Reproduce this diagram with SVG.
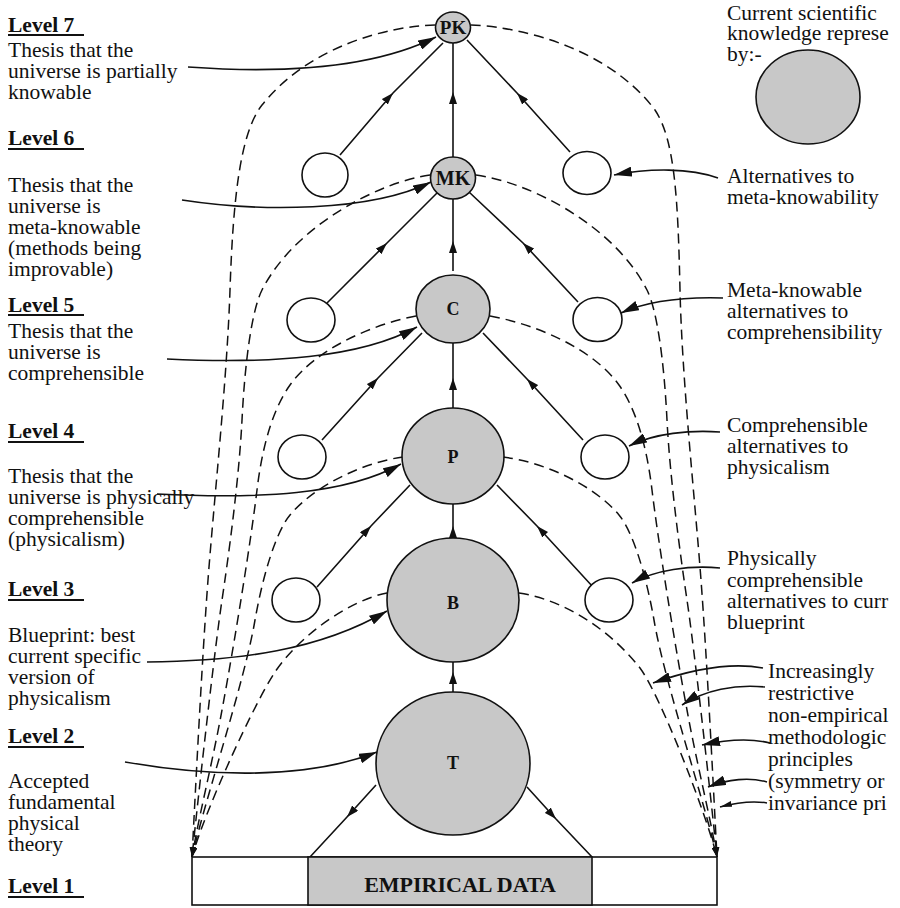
<svg xmlns="http://www.w3.org/2000/svg" width="900" height="908" viewBox="0 0 900 908">
<style>
.t{font-family:"Liberation Serif","Times New Roman",serif;font-size:21.5px;fill:#111}
.h{font-weight:bold}
.lbl{font-family:"Liberation Serif","Times New Roman",serif;font-weight:bold;font-size:18px;text-anchor:middle;fill:#111}
.g{fill:#c8c8c8;stroke:#111;stroke-width:1.6}
.w{fill:#fff;stroke:#111;stroke-width:1.6}
.ln{fill:none;stroke:#111;stroke-width:1.6;marker-mid:url(#am)}
.ds{fill:none;stroke:#111;stroke-width:1.5;stroke-dasharray:10 6;marker-end:url(#ad)}
.an{fill:none;stroke:#111;stroke-width:1.6;marker-end:url(#aa)}
.ul{stroke:#111;stroke-width:2}
</style>
<defs>
<marker id="am" markerUnits="userSpaceOnUse" markerWidth="12" markerHeight="8" refX="12" refY="4" orient="auto" viewBox="0 0 12 8"><path d="M0,0 L12,4 L0,8 Z" fill="#111"/></marker>
<marker id="aa" markerUnits="userSpaceOnUse" markerWidth="18" markerHeight="10" refX="18" refY="5" orient="auto" viewBox="0 0 18 10"><path d="M0,0 L18,5 L0,10 Z" fill="#111"/></marker>
<marker id="as" markerUnits="userSpaceOnUse" markerWidth="12" markerHeight="6" refX="12" refY="3" orient="auto" viewBox="0 0 12 6"><path d="M0,0 L12,3 L0,6 Z" fill="#111"/></marker>
<marker id="ad" markerUnits="userSpaceOnUse" markerWidth="10" markerHeight="6" refX="10" refY="3" orient="auto" viewBox="0 0 10 6"><path d="M0,0 L10,3 L0,6 Z" fill="#111"/></marker>
</defs>
<rect width="900" height="908" fill="#fff"/>

<g id="connectors">
<path class="ln" d="M340,155 L393,93 L443,43"/>
<path class="ln" d="M570,152 L517,93 L467,40"/>
<path class="ln" d="M453,157 L453,92 L453,43"/>
<path class="ln" d="M327,303 L387,243 L437,193"/>
<path class="ln" d="M578,302 L523,243 L469,192"/>
<path class="ln" d="M453,271 L453,241 L453,199"/>
<path class="ln" d="M322,440 L378,378 L422,333"/>
<path class="ln" d="M583,440 L527,379 L483,333"/>
<path class="ln" d="M453,408 L453,378 L453,343"/>
<path class="ln" d="M317,587 L371,526 L410,485"/>
<path class="ln" d="M593,587 L537,526 L497,485"/>
<path class="ln" d="M453,538 L453,526 L453,504"/>
<path class="ln" d="M453,692 L453,672 L453,661"/>
<path class="ln" d="M376,785 L347,817 L310,857"/>
<path class="ln" d="M527,787 L556,819 L592,857"/>
<path class="ds" d="M435,25 C390,26 310,45 262,105 C240,133 233,200 230,290 C227,380 214,500 208,580 C202,660 196,780 192,857"/>
<path class="ds" d="M430,175 C380,182 295,225 262,290 C252,310 245,360 242,420 C239,480 228,560 222,600 C215,647 200,780 192,857"/>
<path class="ds" d="M416,316 C370,325 315,350 290,385 C275,406 263,440 257,490 C251,540 235,640 222,710 C213,760 198,820 192,857"/>
<path class="ds" d="M403,457 C365,462 315,485 290,515 C275,533 262,580 255,620 C245,680 205,800 192,857"/>
<path class="ds" d="M387,593 C350,600 300,635 275,672 C255,702 205,810 192,857"/>
<path class="ds" d="M471,25 C525,27 610,50 655,110 C675,140 678,200 680,290 C682,380 695,500 701,580 C707,660 713,780 717,857"/>
<path class="ds" d="M476,175 C529,182 614,225 647,290 C657,310 664,360 667,420 C670,480 681,560 687,600 C694,647 709,780 717,857"/>
<path class="ds" d="M490,316 C539,325 594,350 619,385 C634,406 646,440 652,490 C658,540 674,640 687,710 C696,760 711,820 717,857"/>
<path class="ds" d="M503,457 C544,462 594,485 619,515 C634,533 647,580 654,620 C664,680 704,800 717,857"/>
<path class="ds" d="M519,593 C565,600 610,630 640,668 C660,695 705,810 717,857"/>
<path class="an" d="M188,67 C300,75 380,65 436,37"/>
<path class="an" d="M182,200 C260,212 370,212 431,182"/>
<path class="an" d="M167,359 C270,364 360,358 417,327"/>
<path class="an" d="M157,494 C260,499 345,495 401,464"/>
<path class="an" d="M147,662 C240,661 320,650 387,611"/>
<path class="an" d="M125,762 C200,775 300,782 377,752"/>
<path class="an" d="M718,178 C690,168 650,168 614,175"/>
<path class="an" d="M723,298 C690,297 650,300 621,313"/>
<path class="an" d="M720,432 C690,430 655,433 629,446"/>
<path class="an" d="M720,568 C690,565 655,570 632,583"/>
<path class="an" d="M763,668 C730,662 690,670 653,683"/>
<path class="an" d="M765,687 C735,684 705,690 682,705"/>
<path class="an" d="M770,743 C750,738 725,740 702,745"/>
<path class="an" d="M767,782 C750,777 728,779 708,787"/>
<path d="M767,803 C750,800 735,803 720,807" fill="none" stroke="#111" stroke-width="1.6" marker-end="url(#as)"/>
</g>

<g id="empirical">
<rect x="192" y="857" width="525" height="48" class="w"/>
<rect x="308" y="857" width="284" height="48" class="g"/>
<text x="460" y="892" class="t h" text-anchor="middle" style="font-size:22px">EMPIRICAL DATA</text>
</g>
<g id="node-T"><ellipse cx="453" cy="763.5" rx="77" ry="71.5" class="g"/><text x="453" y="769" class="lbl">T</text></g>
<g id="node-B"><ellipse cx="453" cy="600" rx="66" ry="62" class="g"/><text x="453" y="609" class="lbl">B</text></g>
<g id="node-P"><ellipse cx="453" cy="456" rx="51" ry="48" class="g"/><text x="453" y="463" class="lbl">P</text></g>
<g id="node-C"><ellipse cx="453" cy="309" rx="37" ry="34" class="g"/><text x="453" y="315" class="lbl">C</text></g>
<g id="node-MK"><ellipse cx="453" cy="178" rx="22.5" ry="21" class="g"/><text x="453" y="185" class="lbl" style="font-size:20px">MK</text></g>
<g id="node-PK"><ellipse cx="453" cy="27.5" rx="17.5" ry="15.5" class="g"/><text x="453" y="34" class="lbl" style="font-size:19px">PK</text></g>

<g id="alt-L6"><ellipse cx="325" cy="175" rx="23" ry="22" class="w"/></g>
<g id="alt-R6"><ellipse cx="587" cy="173" rx="24" ry="21.5" class="w"/></g>
<g id="alt-L5"><ellipse cx="311" cy="320" rx="24" ry="22" class="w"/></g>
<g id="alt-R5"><ellipse cx="597.5" cy="319.5" rx="24.5" ry="22" class="w"/></g>
<g id="alt-L4"><ellipse cx="302" cy="457" rx="24" ry="22" class="w"/></g>
<g id="alt-R4"><ellipse cx="605" cy="457" rx="24" ry="22" class="w"/></g>
<g id="alt-L3"><ellipse cx="296" cy="600" rx="24" ry="22" class="w"/></g>
<g id="alt-R3"><ellipse cx="609" cy="600" rx="24" ry="22" class="w"/></g>

<g id="legend">
<text class="t"><tspan x="727" y="20">Current scientific</tspan><tspan x="727" y="40">knowledge represe</tspan><tspan x="727" y="61">by:-</tspan></text>
<ellipse cx="808" cy="97" rx="52" ry="47" class="g"/>
</g>

<g id="left-labels">
<text x="8" y="32" class="t h">Level 7</text><line x1="8" y1="35" x2="84" y2="35" class="ul"/>
<text class="t"><tspan x="8" y="57">Thesis that the</tspan><tspan x="8" y="78">universe is partially</tspan><tspan x="8" y="99">knowable</tspan></text>
<text x="8" y="145" class="t h">Level 6</text><line x1="8" y1="149" x2="84" y2="149" class="ul"/>
<text class="t"><tspan x="8" y="192">Thesis that the</tspan><tspan x="8" y="213">universe is</tspan><tspan x="8" y="234">meta-knowable</tspan><tspan x="8" y="255">(methods being</tspan><tspan x="8" y="276">improvable)</tspan></text>
<text x="8" y="312" class="t h">Level 5</text><line x1="8" y1="315" x2="84" y2="315" class="ul"/>
<text class="t"><tspan x="8" y="338">Thesis that the</tspan><tspan x="8" y="359">universe is</tspan><tspan x="8" y="380">comprehensible</tspan></text>
<text x="8" y="438" class="t h">Level 4</text><line x1="8" y1="442" x2="84" y2="442" class="ul"/>
<text class="t"><tspan x="8" y="483">Thesis that the</tspan><tspan x="8" y="504">universe is physically</tspan><tspan x="8" y="525">comprehensible</tspan><tspan x="8" y="546">(physicalism)</tspan></text>
<text x="8" y="596" class="t h">Level 3</text><line x1="8" y1="600" x2="84" y2="600" class="ul"/>
<text class="t"><tspan x="8" y="642">Blueprint: best</tspan><tspan x="8" y="663">current specific</tspan><tspan x="8" y="684">version of</tspan><tspan x="8" y="705">physicalism</tspan></text>
<text x="8" y="743" class="t h">Level 2</text><line x1="8" y1="747" x2="84" y2="747" class="ul"/>
<text class="t"><tspan x="8" y="788">Accepted</tspan><tspan x="8" y="809">fundamental</tspan><tspan x="8" y="830">physical</tspan><tspan x="8" y="851">theory</tspan></text>
<text x="8" y="893" class="t h">Level 1</text><line x1="8" y1="897" x2="84" y2="897" class="ul"/>
</g>

<g id="right-labels">
<text class="t"><tspan x="727" y="183">Alternatives to</tspan><tspan x="727" y="204">meta-knowability</tspan></text>
<text class="t"><tspan x="727" y="297">Meta-knowable</tspan><tspan x="727" y="318">alternatives to</tspan><tspan x="727" y="339">comprehensibility</tspan></text>
<text class="t"><tspan x="727" y="432">Comprehensible</tspan><tspan x="727" y="453">alternatives to</tspan><tspan x="727" y="474">physicalism</tspan></text>
<text class="t"><tspan x="727" y="565">Physically</tspan><tspan x="727" y="587">comprehensible</tspan><tspan x="727" y="608">alternatives to curr</tspan><tspan x="727" y="629">blueprint</tspan></text>
<text class="t"><tspan x="768" y="678">Increasingly</tspan><tspan x="768" y="700">restrictive</tspan><tspan x="768" y="722">non-empirical</tspan><tspan x="768" y="744">methodologic</tspan><tspan x="768" y="766">principles</tspan><tspan x="768" y="788">(symmetry or</tspan><tspan x="768" y="810">invariance pri</tspan></text>
</g>
</svg>
